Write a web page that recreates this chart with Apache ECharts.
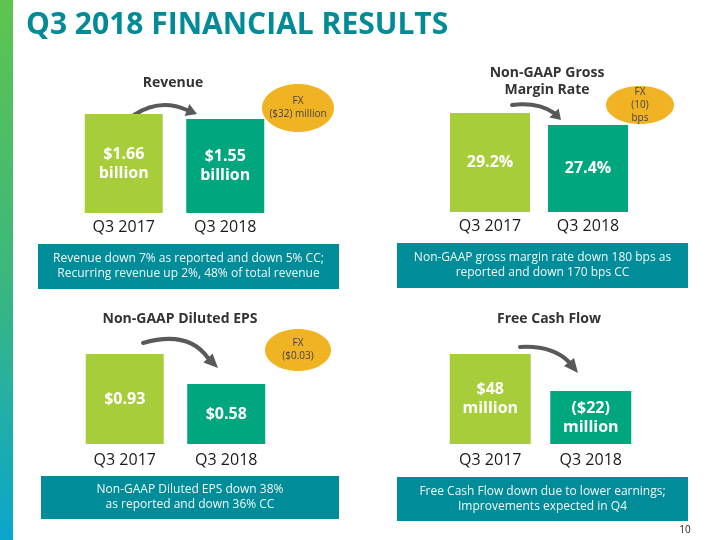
<!DOCTYPE html>
<html>
<head>
<meta charset="utf-8">
<script src="https://cdn.jsdelivr.net/npm/echarts@6/dist/echarts.min.js"></script>
<style>
  html, body { margin: 0; padding: 0; background: #fff; }
  #chart { width: 720px; height: 540px; }
</style>
</head>
<body>
<div id="chart"></div>
<script>
// bar sizes are the drawn heights on the slide (not to scale with the figures)
const categories = ['Q3 2017', 'Q3 2018']
const revenueSizes = [99, 94]
const revenueLabels = ['$1.66\nbillion', '$1.55\nbillion']
const marginSizes = [99, 87]
const marginLabels = ['29.2%', '27.4%']
const epsSizes = [90, 60]
const epsLabels = ['$0.93', '$0.58']
const fcfSizes = [90, 53]
const fcfLabels = ['$48\nmillion', '($22)\nmillion']

const FONT = '"Open Sans", sans-serif'
const LIGHT = '#a8cd3a'
const DARK = '#00a67d'
const BOX = '#008c99'
const FX = '#f0b323'

const chart = echarts.init(document.getElementById('chart'))

const panels = [
  { sizes: revenueSizes, labels: revenueLabels, grid: { left: 73, top: 113, width: 203, height: 100 }, barWidth: 78, margin: 6 },
  { sizes: marginSizes, labels: marginLabels, grid: { left: 441, top: 112, width: 196, height: 100 }, barWidth: 80, margin: 6 },
  { sizes: epsSizes, labels: epsLabels, grid: { left: 74, top: 344, width: 203, height: 100 }, barWidth: 78, margin: 8 },
  { sizes: fcfSizes, labels: fcfLabels, grid: { left: 440, top: 344, width: 201, height: 100 }, barWidth: 81, margin: 8 }
]

function arrow(x1, y1, cx, cy, x2, y2, tx, ty) {
  const ang = Math.atan2(ty - y2, tx - x2)
  const len = Math.hypot(tx - x2, ty - y2)
  const w = 6.5
  const nx = -Math.sin(ang) * w
  const ny = Math.cos(ang) * w
  return [
    {
      type: 'bezierCurve',
      shape: { x1, y1, x2, y2, cpx1: cx, cpy1: cy },
      style: { stroke: '#595959', lineWidth: 4, fill: null, lineCap: 'round' }
    },
    {
      type: 'polygon',
      shape: { points: [[x2 + nx, y2 + ny], [x2 - nx, y2 - ny], [x2 + Math.cos(ang) * len, y2 + Math.sin(ang) * len]] },
      style: { fill: '#595959' }
    }
  ]
}

function heading(text, x, y) {
  return {
    type: 'text', x, y,
    style: { text, fill: '#333', font: `bold 14px ${FONT}`, align: 'center', verticalAlign: 'middle', lineHeight: 17 }
  }
}

function box(text, x, y, w, h) {
  return [
    { type: 'rect', shape: { x, y, width: w, height: h }, style: { fill: BOX } },
    {
      type: 'text', x: x + w / 2, y: y + h / 2,
      style: { text, fill: '#f2f8f8', font: `12px ${FONT}`, align: 'center', verticalAlign: 'middle', lineHeight: 15 }
    }
  ]
}

function fx(text, cx, cy, rx, ry) {
  return [
    { type: 'ellipse', shape: { cx, cy, rx, ry }, style: { fill: FX } },
    {
      type: 'text', x: cx, y: cy,
      style: { text, fill: '#444', font: `10px ${FONT}`, align: 'center', verticalAlign: 'middle', lineHeight: 13 }
    }
  ]
}

const graphics = [
  {
    type: 'rect', shape: { x: 0, y: 0, width: 13, height: 540 },
    style: {
      fill: new echarts.graphic.LinearGradient(0, 0, 0, 1, [
        { offset: 0, color: '#5fc44f' },
        { offset: 0.5, color: '#3cb87c' },
        { offset: 1, color: '#0aa6cc' }
      ])
    }
  },
  {
    type: 'text', x: 26, y: 25,
    style: { text: 'Q3 2018 FINANCIAL RESULTS', fill: '#008b96', font: `bold 30px ${FONT}`, verticalAlign: 'middle' }
  },
  heading('Revenue', 173, 83),
  heading('Non-GAAP Gross\nMargin Rate', 547, 82),
  heading('Non-GAAP Diluted EPS', 180, 319),
  heading('Free Cash Flow', 549, 319),
  ...arrow(134, 115, 160, 98, 187, 110, 197, 114),
  ...arrow(512, 105, 538, 102, 554, 113, 561, 120),
  ...arrow(143, 343, 188, 330, 208, 358, 218, 368),
  ...arrow(520, 347, 552, 345, 569, 362, 578, 373),
  ...fx('FX\n($32) million', 298, 108, 36, 24),
  ...fx('FX\n(10)\nbps', 640, 105, 34, 19),
  ...fx('FX\n($0.03)', 298, 350, 33, 21),
  ...box('Revenue down 7% as reported and down 5% CC;\nRecurring revenue up 2%, 48% of total revenue', 38, 244, 301, 45),
  ...box('Non-GAAP gross margin rate down 180 bps as\nreported and down 170 bps CC', 397, 243, 291, 45),
  ...box('Non-GAAP Diluted EPS down 38%\nas reported and down 36% CC', 41, 476, 298, 43),
  ...box('Free Cash Flow down due to lower earnings;\nImprovements expected in Q4', 397, 477, 291, 44),
  {
    type: 'text', x: 685, y: 530,
    style: { text: '10', fill: '#222', font: `10px ${FONT}`, align: 'center', verticalAlign: 'middle' }
  }
]

chart.setOption({
  backgroundColor: '#fff',
  animation: false,
  textStyle: { fontFamily: FONT },
  grid: panels.map(p => p.grid),
  xAxis: panels.map((p, i) => ({
    type: 'category',
    gridIndex: i,
    data: categories,
    axisLine: { show: false },
    axisTick: { show: false },
    axisLabel: { color: '#1a1a1a', fontSize: 16, margin: p.margin, fontFamily: FONT }
  })),
  yAxis: panels.map((p, i) => ({
    type: 'value', gridIndex: i, min: 0, max: 100, show: false
  })),
  series: panels.map((p, i) => ({
    type: 'bar',
    xAxisIndex: i,
    yAxisIndex: i,
    barWidth: p.barWidth,
    data: p.sizes.map((v, j) => ({ value: v, itemStyle: { color: j === 0 ? LIGHT : DARK } })),
    label: {
      show: true,
      position: 'inside',
      color: '#fff',
      fontWeight: 'bold',
      fontSize: 16,
      lineHeight: 19,
      fontFamily: FONT,
      formatter: params => p.labels[params.dataIndex]
    }
  })),
  graphic: graphics
})
</script>
</body>
</html>
